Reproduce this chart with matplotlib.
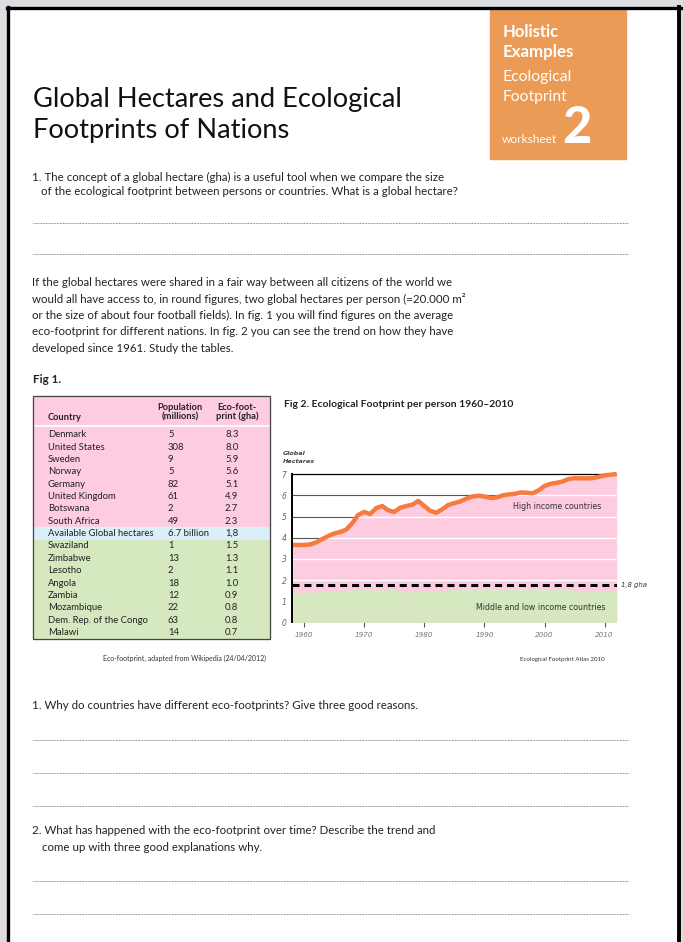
import matplotlib.pyplot as plt
from matplotlib.patches import Rectangle

W, H = 683, 942
BODY = "Lato"
CHART_FONT = "DejaVu Sans"

# Fig 1 table
COUNTRIES = ["Denmark", "United States", "Sweden", "Norway", "Germany",
             "United Kingdom", "Botswana", "South Africa",
             "Available Global hectares", "Swaziland", "Zimbabwe", "Lesotho",
             "Angola", "Zambia", "Mozambique", "Dem. Rep. of the Congo",
             "Malawi"]
POPULATION = ["5", "308", "9", "5", "82", "61", "2", "49", "6.7 billion",
              "1", "13", "2", "18", "12", "22", "63", "14"]
FOOTPRINT = ["8.3", "8.0", "5.9", "5.6", "5.1", "4.9", "2.7", "2.3", "1,8",
             "1.5", "1.3", "1.1", "1.0", "0.9", "0.8", "0.8", "0.7"]
N_HIGH = 8  # rows above the "available" row

# Fig 2 series (gha per person)
YEARS_HIGH = list(range(1958, 2013))
HIGH_INCOME = [3.66, 3.66, 3.66, 3.68, 3.78, 3.93, 4.08, 4.20, 4.27, 4.38,
               4.68, 5.08, 5.22, 5.12, 5.40, 5.50, 5.30, 5.22, 5.42, 5.50,
               5.56, 5.74, 5.50, 5.27, 5.18, 5.35, 5.55, 5.64, 5.72, 5.85,
               5.95, 5.99, 5.95, 5.88, 5.90, 6.00, 6.05, 6.07, 6.14, 6.13,
               6.10, 6.24, 6.45, 6.55, 6.60, 6.66, 6.78, 6.82, 6.81, 6.81,
               6.82, 6.88, 6.95, 6.98, 7.02]
YEARS_LOW = [1958, 1960, 1962, 1964, 1966, 1968, 1970, 1972, 1974, 1975,
             1977, 1978, 1980, 1982, 1984, 1986, 1990, 1995, 2000, 2003,
             2005, 2007, 2010, 2012]
LOW_INCOME = [1.37, 1.42, 1.45, 1.45, 1.50, 1.55, 1.55, 1.53, 1.58, 1.55,
              1.42, 1.52, 1.50, 1.48, 1.55, 1.60, 1.60, 1.60, 1.60, 1.60,
              1.50, 1.45, 1.48, 1.50]
AVAILABLE = 1.75
Y_TICKS = [0, 1, 2, 3, 4, 5, 6, 7]
X_TICKS = [1960, 1970, 1980, 1990, 2000, 2010]

PINK = "#fdcce0"
GREEN = "#d6e8bf"
BLUE = "#dbeff8"
ORANGE_BOX = "#eb9b56"
ORANGE_LINE = "#f97a3e"

fig = plt.figure(figsize=(W / 100, H / 100), dpi=100, facecolor="#dcdde0")


def page_axes(zorder):
    a = fig.add_axes([0, 0, 1, 1], zorder=zorder)
    a.set_xlim(0, W)
    a.set_ylim(H, 0)
    a.axis("off")
    a.patch.set_alpha(0)
    return a


page = page_axes(0)
over = page_axes(5)  # labels drawn on top of the chart
R = fig.canvas.get_renderer()


def put(x, y, s, width=None, size=8, on=None, **kw):
    """Text in page pixels; if width is given the font size is fitted."""
    kw.setdefault("family", BODY)
    kw.setdefault("va", "baseline")
    t = (on or page).text(x, y, s, fontsize=size, **kw)
    if width is not None:
        w = t.get_window_extent(renderer=R).width
        t.set_fontsize(size * width / w)
    return t


def rule(y):
    page.plot([33, 628], [y, y], color="#777777", lw=0.7,
              ls=(0, (0.8, 0.8)))


# page and frame
page.add_patch(Rectangle((9, 10), 669, 940, color="white", zorder=0))
page.plot([6.5, 681], [8.4, 8.4], color="black", lw=2.4)
page.plot([8, 8], [7, H], color="black", lw=2.4)
page.plot([679.2, 679.2], [7, H], color="black", lw=2.8)

# orange header box
page.add_patch(Rectangle((490, 10), 136, 149, color=ORANGE_BOX, zorder=1))
put(503, 36.7, "Holistic", width=57, color="white", weight="bold")
put(503, 57, "Examples", width=72, color="white", weight="bold")
put(503, 81, "Ecological", width=70, color="white")
put(503, 101.5, "Footprint", width=65, color="white")
put(502, 143, "worksheet", width=55, color="white")
put(562, 143, "2", width=29, color="white", weight="black")

# title
ts = put(33, 107, "Global Hectares and Ecological", width=372,
         color="#111111").get_fontsize()
put(33, 138, "Footprints of Nations", size=ts, color="#111111")

# question 1
qs = put(32, 181, "1. The concept of a global hectare (gha) is a useful tool "
         "when we compare the size", width=413, color="#222222").get_fontsize()
put(41, 195, "of the ecological footprint between persons or countries. "
    "What is a global hectare?", size=qs, color="#222222")
rule(222.5)
rule(254)

# paragraph
para = ["If the global hectares were shared in a fair way between all "
        "citizens of the world we",
        "would all have access to, in round figures, two global hectares "
        "per person (=20.000 m²",
        "or the size of about four football fields). In fig. 1 you will "
        "find figures on the average",
        "eco-footprint for different nations. In fig. 2 you can see the "
        "trend on how they have",
        "developed since 1961. Study the tables."]
ps = put(32, 286.5, para[0], width=425, color="#222222").get_fontsize()
for i, line in enumerate(para[1:], start=1):
    put(32, 286.5 + i * 16.3, line, size=ps, color="#222222")

put(33, 383, "Fig 1.", width=28, weight="bold", color="#222222")

# Fig 1 table
TX0, TX1, TY0, TY1 = 33, 270, 396, 639
ROW0, ROWH = 434.3, 12.35
blue_top = ROW0 + N_HIGH * ROWH - 6.3
blue_bot = blue_top + 12.8
page.add_patch(Rectangle((TX0, TY0), TX1 - TX0, blue_top - TY0, color=PINK))
page.add_patch(Rectangle((TX0, blue_top), TX1 - TX0, blue_bot - blue_top,
                         color=BLUE))
page.add_patch(Rectangle((TX0, blue_bot), TX1 - TX0, TY1 - blue_bot,
                         color=GREEN))
page.add_patch(Rectangle((TX0, TY0), TX1 - TX0, TY1 - TY0, fill=False,
                         ec="#444444", lw=0.9, zorder=3))
page.plot([TX0 + 0.5, TX1 - 0.5], [425.5, 425.5], color="white", lw=1.3)

hs = put(180, 410.5, "Population", width=45, weight="bold", ha="center",
         color="#222222").get_fontsize()
put(180, 419, "(millions)", size=hs, weight="bold", ha="center",
    color="#222222")
put(237, 410.5, "Eco-foot-", size=hs, weight="bold", ha="center",
    color="#222222")
put(237, 419, "print (gha)", size=hs, weight="bold", ha="center",
    color="#222222")
put(48, 420, "Country", size=hs, weight="bold", color="#222222")

probe = put(48, 0, "Available Global hectares", width=106)
rs = probe.get_fontsize()
probe.remove()
for i, (c, p, f) in enumerate(zip(COUNTRIES, POPULATION, FOOTPRINT)):
    yb = ROW0 + i * ROWH + 3
    put(48, yb, c, size=rs, color="#222222")
    put(168, yb, p, size=rs, color="#222222")
    put(225, yb, f, size=rs, color="#222222")

put(103, 661, "Eco-footprint, adapted from Wikipedia (24/04/2012)",
    width=164, color="#333333")
put(520, 661, "Ecological Footprint Atlas 2010", width=86, color="#333333")

# Fig 2 chart
put(284, 406.7, "Fig 2. Ecological Footprint per person 1960–2010",
    width=230, weight="bold", color="#222222")
put(283, 455, "Global", width=23, family=CHART_FONT, weight="bold",
    style="italic", color="#444444")
put(283, 463, "Hectares", width=32, family=CHART_FONT, weight="bold",
    style="italic", color="#444444")

X0, X1, Y0, PX = 292, 616.7, 622.3, 21.14
YTOP = 7.25
ax = fig.add_axes([X0 / W, (H - Y0) / H, (X1 - X0) / W, YTOP * PX / H],
                  zorder=2)
ax.patch.set_alpha(0)
ax.set_xlim(YEARS_HIGH[0], YEARS_HIGH[-1])
ax.set_ylim(0, YTOP)

for g in [4, 5, 6]:
    ax.axhline(g, color="#555555", lw=0.8, zorder=1)
ax.axhline(7, color="black", lw=0.9, zorder=1)

pink = ax.fill_between(YEARS_HIGH, 0, HIGH_INCOME, color=PINK, lw=0,
                       zorder=2)
clip = pink.get_paths()[0]
for g in [2, 3, 4, 5, 6]:
    ln = ax.axhline(g, color="white", lw=1.0, zorder=3)
    ln.set_clip_path(clip, ax.transData)
ax.fill_between(YEARS_LOW, 0, LOW_INCOME, color=GREEN, lw=0, zorder=4)
ax.axhline(AVAILABLE, color="black", lw=2.2, ls=(0, (2.3, 1.6)), zorder=5)
ax.plot(YEARS_HIGH, HIGH_INCOME, color=ORANGE_LINE, lw=3.2, zorder=6,
        clip_on=False, solid_joinstyle="round", solid_capstyle="butt")

for s in ["top", "right", "bottom"]:
    ax.spines[s].set_visible(False)
ax.spines["left"].set_bounds(0, 7)
ax.spines["left"].set_linewidth(1.4)
ax.spines["left"].set_zorder(7)
ax.set_yticks(Y_TICKS)
ax.set_xticks(X_TICKS)
ax.tick_params(axis="y", length=0, pad=4, labelsize=5.5, labelcolor="#666666")
ax.tick_params(axis="x", length=3.5, width=0.8, color="#555555", pad=3.5,
               labelsize=5.2, labelcolor="#777777")
for lab in ax.get_xticklabels() + ax.get_yticklabels():
    lab.set_style("italic")
    lab.set_family(CHART_FONT)

put(513, 509, "High income countries", width=89, on=over,
    family=CHART_FONT, color="#333333")
put(476, 610, "Middle and low income countries", width=130, on=over,
    family=CHART_FONT, color="#333333")
put(621, 587, "1,8 gha", width=26, on=over, family=CHART_FONT,
    style="italic", color="#333333")

# questions
put(32, 709, "1. Why do countries have different eco-footprints? "
    "Give three good reasons.", size=qs, color="#222222")
rule(740)
rule(772.5)
rule(805.5)
put(32, 834, "2. What has happened with the eco-footprint over time? "
    "Describe the trend and", size=qs, color="#222222")
put(42, 851, "come up with three good explanations why.", size=qs,
    color="#222222")
rule(881)
rule(913.5)

fig.savefig("out.png", dpi=100, facecolor=fig.get_facecolor())
